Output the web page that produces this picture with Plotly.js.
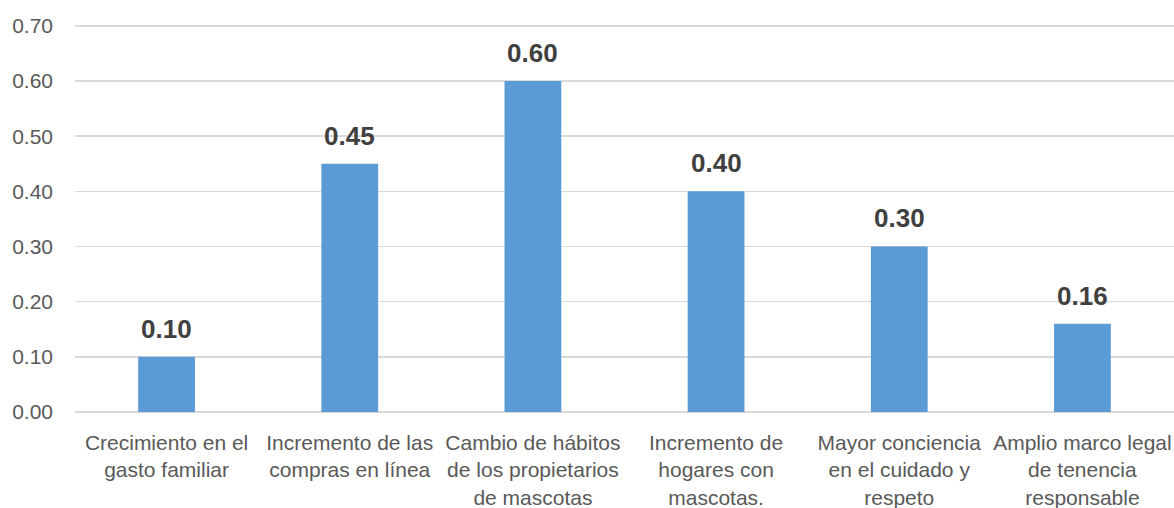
<!DOCTYPE html>
<html>
<head>
<meta charset="utf-8">
<script src="https://cdn.plot.ly/plotly-3.0.1.min.js"></script>
<style>
  html, body { margin: 0; padding: 0; background: #ffffff; }
  #chart { width: 1174px; height: 508px; }
</style>
</head>
<body>
<div id="chart"></div>
<script>
// Factores del crecimiento del mercado de mascotas
const categories = [
  "Crecimiento en el<br>gasto familiar",
  "Incremento de las<br>compras en línea",
  "Cambio de hábitos<br>de los propietarios<br>de mascotas",
  "Incremento de<br>hogares con<br>mascotas.",
  "Mayor conciencia<br>en el cuidado y<br>respeto",
  "Amplio marco legal<br>de tenencia<br>responsable"
];
const values = [0.10, 0.45, 0.60, 0.40, 0.30, 0.16];
const yTicks = [0, 0.1, 0.2, 0.3, 0.4, 0.5, 0.6, 0.7];

const xIdx = categories.map((_, i) => i);
const FONT = "Liberation Sans, Arial, sans-serif";

const trace = {
  type: "bar",
  x: xIdx,
  y: values,
  marker: { color: "#5B9BD5" },
  hoverinfo: "skip"
};

// Etiquetas de valor sobre cada barra
const labels = values.map((v, i) => ({
  x: i,
  y: v,
  xref: "x",
  yref: "y",
  text: v.toFixed(2),
  showarrow: false,
  yanchor: "bottom",
  yshift: 11,
  font: { family: FONT, size: 26, color: "#404040", weight: "bold" }
}));

const layout = {
  width: 1174,
  height: 508,
  margin: { l: 75, r: 0, t: 22, b: 95 },
  paper_bgcolor: "#ffffff",
  plot_bgcolor: "#ffffff",
  showlegend: false,
  bargap: 0.69,
  font: { family: FONT, color: "#595959" },
  xaxis: {
    tickmode: "array",
    tickvals: xIdx,
    ticktext: categories,
    range: [-0.5, categories.length - 0.5],
    showgrid: false,
    zeroline: false,
    showline: false,
    ticks: "",
    tickangle: 0,
    ticklabelstandoff: 15,
    tickfont: { size: 21, color: "#595959" }
  },
  yaxis: {
    range: [-0.002, 0.707],
    tickmode: "array",
    tickvals: yTicks,
    ticktext: yTicks.map(t => t.toFixed(2)),
    showgrid: true,
    gridcolor: "#D9D9D9",
    gridwidth: 1.5,
    zeroline: false,
    showline: false,
    ticks: "",
    ticklabelstandoff: 21,
    tickfont: { size: 21, color: "#595959" }
  },
  annotations: labels
};

Plotly.newPlot("chart", [trace], layout, { displayModeBar: false, staticPlot: true });
</script>
</body>
</html>
